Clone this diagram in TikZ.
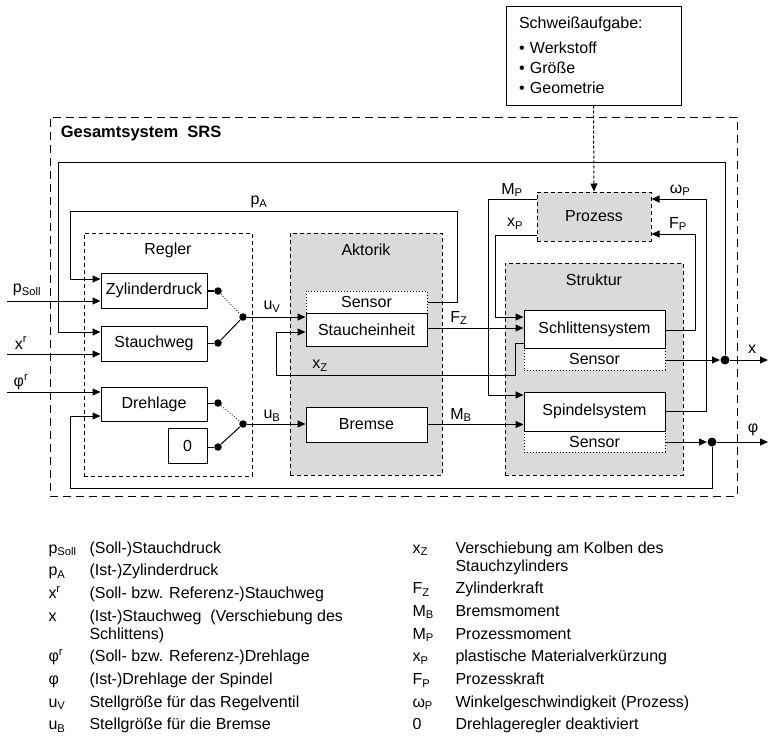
\documentclass[tikz,border=0pt]{standalone}
\usepackage{fontspec}
\setmainfont{Liberation Sans}
\usetikzlibrary{arrows.meta,calc}
\definecolor{fillgrey}{RGB}{218,218,218}

\begin{document}
\begin{tikzpicture}[x=1pt,y=-1pt,
  font=\fontsize{16}{20}\selectfont,
  line width=1pt,
  >={Triangle[length=8pt,width=7pt]},
  box/.style={draw, fill=white, inner sep=0pt},
  sensorbox/.style={draw, dotted, fill=white, inner sep=0pt},
  group/.style={draw, dash pattern=on 4pt off 3pt, inner sep=0pt},
  greygroup/.style={group, fill=fillgrey},
  dot/.style={circle, fill, inner sep=0pt, minimum size=7.5pt},
  bigdot/.style={dot, minimum size=9pt},
  leg/.style={anchor=base west, inner sep=0pt}]

\useasboundingbox (0,0) rectangle (769,736);

% task description above the system
\node[box, minimum width=175pt, minimum height=99pt, align=left, text width=149pt]
  (schw) at (593.5,55.5) {Schweißaufgabe:\\[5pt] \textbullet\ Werkstoff\\ \textbullet\ Größe\\ \textbullet\ Geometrie};

% overall system frame
\node[draw, dash pattern=on 8pt off 5pt, minimum width=687pt, minimum height=379pt, inner sep=0pt]
  (srs) at (393.5,306.5) {};
\node[anchor=west, font=\fontsize{16.5}{19}\selectfont\bfseries] (srslabel) at (57,133) {Gesamtsystem~~SRS};

% sub-system frames
\node[group, minimum width=168pt, minimum height=243pt] (regler) at (168,354.5) {};
\node (reglerlabel) at (168,250) {Regler};
\node[greygroup, minimum width=152pt, minimum height=242pt] (aktorik) at (366,354) {};
\node (aktoriklabel) at (366,250) {Aktorik};
\node[greygroup, minimum width=178pt, minimum height=212pt] (struktur) at (594,369) {};
\node (strukturlabel) at (594,280) {Struktur};

% blocks
\node[box, minimum width=106pt, minimum height=35pt] (zyl) at (154,290.5) {Zylinderdruck};
\node[box, minimum width=106pt, minimum height=35pt] (stw) at (154,343.5) {Stauchweg};
\node[box, minimum width=106pt, minimum height=34pt] (dreh) at (154,404) {Drehlage};
\node[box, minimum width=39pt, minimum height=35pt] (null) at (187.5,445.5) {0};
\node[sensorbox, minimum width=121pt, minimum height=22pt] (sensA) at (366.5,302) {Sensor};
\node[box, minimum width=121pt, minimum height=33pt] (stau) at (366.5,329.5) {Staucheinheit};
\node[box, minimum width=121pt, minimum height=35pt] (brems) at (366.5,424.5) {Bremse};
\node[box, dash pattern=on 4pt off 3pt, fill=fillgrey, minimum width=114pt, minimum height=49pt]
  (proz) at (594,216.5) {Prozess};
\node[sensorbox, minimum width=141pt, minimum height=22pt] (sensB) at (594.5,359) {Sensor};
\node[box, minimum width=141pt, minimum height=38pt] (schl) at (594.5,329) {Schlittensystem};
\node[sensorbox, minimum width=141pt, minimum height=21pt] (sensC) at (594.5,441.5) {Sensor};
\node[box, minimum width=141pt, minimum height=39pt] (spin) at (594.5,411.5) {Spindelsystem};

% task -> process
\draw[->, dash pattern=on 3pt off 2pt] (schw.south) -- (proz.north);

% external inputs
\coordinate (psollin) at (7,301);
\coordinate (xrin) at (7,354);
\coordinate (phirin) at (7,392);
\draw[->] (psollin) -- (zyl.west |- psollin);
\draw[->] (xrin) -- (stw.west |- xrin);
\draw[->] (phirin) -- (dreh.west |- phirin);
\node (psolllabel) at (27,290) {p\textsubscript{Soll}};
\node (xrlabel) at (21,343) {x\textsuperscript{r}};
\node (phirlabel) at (21,382) {φ\textsuperscript{r}};

% switch for the valve signal
\node[dot] (swA1) at (218,291) {};
\node[dot] (swA2) at (218,343) {};
\node[dot] (swA) at (243,317) {};
\draw[line width=1.8pt] (zyl.east |- swA1) -- (swA1);
\draw (stw.east |- swA2) -- (swA2);
\draw[dotted, line width=0.8pt] (swA1) -- (swA);
\draw (swA2) -- (swA);
\draw[->] (swA) -- (stau.west |- swA);
\node (uvlabel) at (272,307) {u\textsubscript{V}};

% switch for the brake signal
\node[dot] (swB1) at (218,403) {};
\node[dot] (swB2) at (218,447) {};
\node[dot] (swB) at (243,424) {};
\draw (dreh.east |- swB1) -- (swB1);
\draw (null.east |- swB2) -- (swB2);
\draw[dotted, line width=0.8pt] (swB1) -- (swB);
\draw (swB2) -- (swB);
\draw[->] (swB) -- (brems.west |- swB);
\node (ublabel) at (272,416) {u\textsubscript{B}};

% cylinder pressure feedback
\draw[->] (sensA.east) -| (457,211) -- (70,211) |- (zyl.west |- 0,279);
\node (palabel) at (259,202) {p\textsubscript{A}};

% piston displacement feedback
\draw[->] (schl.west |- 0,343) -- (515,343) -- (515,375) -- (276,375) |- (stau.west |- 0,332);
\node (xzlabel) at (320,366) {x\textsubscript{Z}};

% forces and torques
\draw[->] (stau.east |- 0,328) -- (schl.west |- 0,328);
\node (fzlabel) at (459,318) {F\textsubscript{Z}};
\draw[->] (brems.east) -- (spin.west |- brems.east);
\node (mblabel) at (461,415) {M\textsubscript{B}};

% process couplings
\draw[->] (proz.west |- 0,199) -- (488,199) |- (spin.west |- 0,395);
\node (mplabel) at (512,190) {M\textsubscript{P}};
\draw[->] (proz.west |- 0,235) -- (495,235) |- (schl.west |- 0,317);
\node (xplabel) at (515,224) {x\textsubscript{P}};
\draw[->] (spin.east) -- (706,411.5) |- (proz.east |- 0,199);
\node (omlabel) at (680,190) {ω\textsubscript{P}};
\draw[->] (schl.east |- 0,330) -- (695,330) |- (proz.east |- 0,234);
\node (fplabel) at (678,224) {F\textsubscript{P}};

% outputs and their feedback
\node[bigdot] (xdot) at (725,360) {};
\node[bigdot] (phidot) at (712,442) {};
\coordinate (xend) at (768,360);
\coordinate (phiend) at (768,442);
\draw[->] (sensB.east |- xdot) -- (xdot.west);
\draw[->] (xdot) -- (xend);
\node (xlabel) at (752,349) {x};
\draw[->] (xdot) -- (725,162) -- (58,162) |- (stw.west |- 0,332);
\draw[->] (sensC.east |- phidot) -- (phidot.west);
\draw[->] (phidot) -- (phiend);
\node (philabel) at (753,430) {φ};
\draw[->] (phidot) -- (712,488) -- (70,488) |- (dreh.west |- 0,416);

% legend, left column
\node[leg] (l1s) at (48,553) {p\textsubscript{Soll}};
\node[leg] (l1d) at (89,553) {(Soll-)Stauchdruck};
\node[leg] (l2s) at (48,575.7) {p\textsubscript{A}};
\node[leg] (l2d) at (89,575.7) {(Ist-)Zylinderdruck};
\node[leg] (l3s) at (48,598.4) {x\textsuperscript{r}};
\node[leg] (l3d) at (89,598.4) {(Soll- bzw. Referenz-)Stauchweg};
\node[leg] (l4s) at (48,621.1) {x};
\node[leg] (l4d) at (89,621.1) {(Ist-)Stauchweg~~(Verschiebung des};
\node[leg] (l4e) at (89,639.1) {Schlittens)};
\node[leg] (l5s) at (48,661.8) {φ\textsuperscript{r}};
\node[leg] (l5d) at (89,661.8) {(Soll- bzw. Referenz-)Drehlage};
\node[leg] (l6s) at (48,684.5) {φ};
\node[leg] (l6d) at (89,684.5) {(Ist-)Drehlage der Spindel};
\node[leg] (l7s) at (48,707.2) {u\textsubscript{V}};
\node[leg] (l7d) at (89,707.2) {Stellgröße für das Regelventil};
\node[leg] (l8s) at (48,729.9) {u\textsubscript{B}};
\node[leg] (l8d) at (89,729.9) {Stellgröße für die Bremse};

% legend, right column
\node[leg] (r1s) at (412,553) {x\textsubscript{Z}};
\node[leg] (r1d) at (455,553) {Verschiebung am Kolben des};
\node[leg] (r1e) at (455,571) {Stauchzylinders};
\node[leg] (r2s) at (412,593.7) {F\textsubscript{Z}};
\node[leg] (r2d) at (455,593.7) {Zylinderkraft};
\node[leg] (r3s) at (412,616.4) {M\textsubscript{B}};
\node[leg] (r3d) at (455,616.4) {Bremsmoment};
\node[leg] (r4s) at (412,639.1) {M\textsubscript{P}};
\node[leg] (r4d) at (455,639.1) {Prozessmoment};
\node[leg] (r5s) at (412,661.8) {x\textsubscript{P}};
\node[leg] (r5d) at (455,661.8) {plastische Materialverkürzung};
\node[leg] (r6s) at (412,684.5) {F\textsubscript{P}};
\node[leg] (r6d) at (455,684.5) {Prozesskraft};
\node[leg] (r7s) at (412,707.2) {ω\textsubscript{P}};
\node[leg] (r7d) at (455,707.2) {Winkelgeschwindigkeit (Prozess)};
\node[leg] (r8s) at (412,729.9) {0};
\node[leg] (r8d) at (455,729.9) {Drehlageregler deaktiviert};
\end{tikzpicture}
\end{document}
